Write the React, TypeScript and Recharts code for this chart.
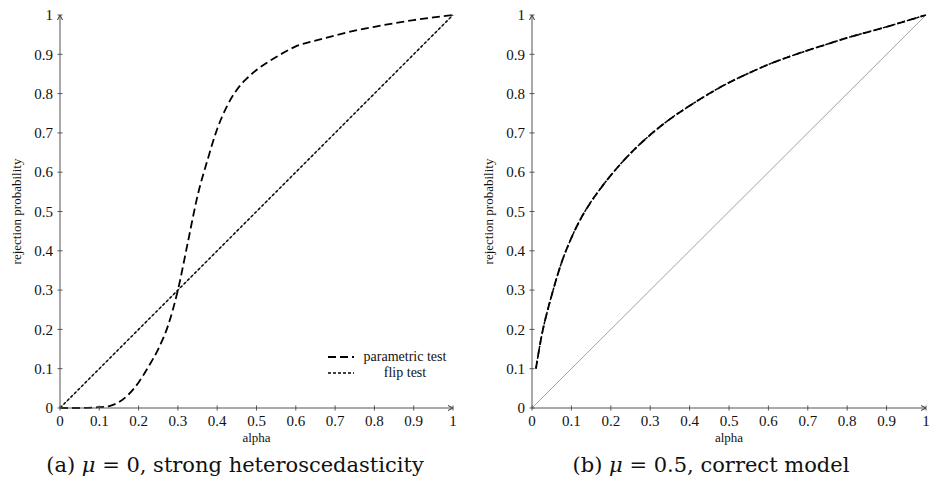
import React from 'react';
import { LineChart, Line, XAxis, YAxis, ReferenceLine, ReferenceDot } from 'recharts';

// Panel (a): mu = 0, strong heteroscedasticity
const leftAlpha = [0, 0.05, 0.1, 0.125, 0.15, 0.175, 0.2, 0.225, 0.25, 0.275, 0.3, 0.325, 0.35, 0.375, 0.4, 0.425, 0.45, 0.475, 0.5, 0.55, 0.6, 0.65, 0.7, 0.75, 0.8, 0.85, 0.9, 0.95, 1];
const leftParametric = [0, 0, 0.002, 0.005, 0.015, 0.035, 0.065, 0.105, 0.15, 0.21, 0.3, 0.42, 0.54, 0.63, 0.71, 0.768, 0.81, 0.838, 0.86, 0.893, 0.92, 0.935, 0.948, 0.96, 0.97, 0.979, 0.987, 0.994, 1];
const leftFlip = [0, 0.05, 0.1, 0.125, 0.15, 0.175, 0.2, 0.225, 0.25, 0.275, 0.3, 0.325, 0.35, 0.375, 0.4, 0.425, 0.45, 0.475, 0.5, 0.55, 0.6, 0.65, 0.7, 0.75, 0.8, 0.85, 0.9, 0.95, 1];

// Panel (b): mu = 0.5, correct model
const rightAlpha = [0.01, 0.02, 0.03, 0.04, 0.05, 0.075, 0.1, 0.125, 0.15, 0.175, 0.2, 0.25, 0.3, 0.35, 0.4, 0.45, 0.5, 0.55, 0.6, 0.65, 0.7, 0.75, 0.8, 0.85, 0.9, 0.95, 1];
const rightParametric = [0.1, 0.16, 0.21, 0.25, 0.287, 0.37, 0.433, 0.484, 0.525, 0.56, 0.592, 0.648, 0.695, 0.735, 0.769, 0.8, 0.828, 0.852, 0.874, 0.893, 0.91, 0.926, 0.942, 0.956, 0.97, 0.985, 1];
const rightFlip = [0.1, 0.16, 0.21, 0.25, 0.287, 0.37, 0.433, 0.484, 0.525, 0.56, 0.592, 0.648, 0.695, 0.735, 0.769, 0.8, 0.828, 0.852, 0.874, 0.893, 0.91, 0.926, 0.942, 0.956, 0.97, 0.985, 1];

const ticks = [0, 0.1, 0.2, 0.3, 0.4, 0.5, 0.6, 0.7, 0.8, 0.9, 1];

const FONT = '"Liberation Serif", "DejaVu Serif", serif';
const AXIS = '#555';
const TICK_MARGIN = 7;

const buildRows = (alpha: number[], param: number[], flip: number[]) =>
  alpha.map((a, i) => ({ alpha: a, parametric: param[i], flip: flip[i] }));

const fmt = (v: number) => String(v);

const XTick = (props: any) => {
  const { x, y, payload } = props;
  const ay = y - TICK_MARGIN;
  return (
    <g>
      <line x1={x} x2={x} y1={ay - 2.5} y2={ay + 2.5} stroke={AXIS} />
      <text x={x} y={y} dy="0.71em" textAnchor="middle" fontFamily={FONT} fontSize={15} fill="#111">
        {fmt(payload.value)}
      </text>
    </g>
  );
};

const YTick = (props: any) => {
  const { x, y, payload } = props;
  const ax = x + TICK_MARGIN;
  return (
    <g>
      <line x1={ax - 2.5} x2={ax + 2.5} y1={y} y2={y} stroke={AXIS} />
      <text x={x} y={y} dy="0.35em" textAnchor="end" fontFamily={FONT} fontSize={15} fill="#111">
        {fmt(payload.value)}
      </text>
    </g>
  );
};

const YLabel = (props: any) => {
  const vb = props.viewBox;
  const cx = vb.x + vb.width - 44;
  const cy = vb.y + vb.height / 2;
  return (
    <text x={cx} y={cy} transform={`rotate(-90 ${cx} ${cy})`} textAnchor="middle" dominantBaseline="central"
      fontFamily={FONT} fontSize={13} fill="#111">
      rejection probability
    </text>
  );
};

const XLabel = (props: any) => {
  const vb = props.viewBox;
  const cx = vb.x + vb.width / 2;
  return (
    <text x={cx} y={vb.y + 29} textAnchor="middle" dominantBaseline="central" fontFamily={FONT} fontSize={13} fill="#111">
      alpha
    </text>
  );
};

const ArrowRight = (p: any) => (
  <path d={`M${p.cx - 5},${p.cy - 2.5} L${p.cx},${p.cy} L${p.cx - 5},${p.cy + 2.5}`} fill="none" stroke="#333" strokeWidth={1} />
);
const ArrowUp = (p: any) => (
  <path d={`M${p.cx - 2.5},${p.cy + 5} L${p.cx},${p.cy} L${p.cx + 2.5},${p.cy + 5}`} fill="none" stroke="#333" strokeWidth={1} />
);

const Panel = ({ data, width, margin }: { data: any[]; width: number; margin: any }) => (
  <LineChart width={width} height={452} data={data} margin={margin}>
    <XAxis dataKey="alpha" type="number" domain={[0, 1]} ticks={ticks} interval={0}
      axisLine={{ stroke: AXIS }} tickLine={false} tickSize={0} tickMargin={TICK_MARGIN}
      tick={<XTick />} height={25} label={<XLabel />} />
    <YAxis type="number" domain={[0, 1]} ticks={ticks} interval={0}
      axisLine={{ stroke: AXIS }} tickLine={false} tickSize={0} tickMargin={TICK_MARGIN}
      tick={<YTick />} width={40} label={<YLabel />} />
    <ReferenceLine segment={[{ x: 0, y: 0 }, { x: 1, y: 1 }]} stroke="#999" strokeWidth={0.9} />
    <Line type="monotone" dataKey="parametric" stroke="#000" strokeWidth={1.8} strokeDasharray="8 4"
      dot={false} isAnimationActive={false} />
    <Line type="monotone" dataKey="flip" stroke="#000" strokeWidth={1.5} strokeDasharray="3 2"
      dot={false} isAnimationActive={false} />
    <ReferenceDot x={1} y={0} r={3} shape={<ArrowRight />} />
    <ReferenceDot x={0} y={1} r={3} shape={<ArrowUp />} />
  </LineChart>
);

const LegendRow = ({ dash, width, label }: { dash: string; width: number; label: string }) => (
  <div style={{ display: 'flex', alignItems: 'center', height: 16 }}>
    <svg width={26} height={8} style={{ marginRight: 4 }}>
      <line x1={0} x2={26} y1={4} y2={4} stroke="#000" strokeWidth={width} strokeDasharray={dash} />
    </svg>
    <span style={{ flex: 1, textAlign: 'center' }}>{label}</span>
  </div>
);

const captionStyle: React.CSSProperties = {
  position: 'absolute', width: 460, top: 453, textAlign: 'center',
  fontFamily: '"DejaVu Serif", serif', fontSize: 21, color: '#111', whiteSpace: 'nowrap',
};

export default function App() {
  const left = buildRows(leftAlpha, leftParametric, leftFlip);
  const right = buildRows(rightAlpha, rightParametric, rightFlip);
  return (
    <div style={{ position: 'absolute', left: 0, top: 0, width: 931, height: 495, background: '#fff', fontFamily: FONT }}>
      <div style={{ position: 'absolute', left: 0, top: 0 }}>
        <Panel data={left} width={470} margin={{ top: 15, right: 17, bottom: 19, left: 20 }} />
      </div>
      <div style={{ position: 'absolute', left: 472, top: 0 }}>
        <Panel data={right} width={459} margin={{ top: 15, right: 5, bottom: 19, left: 20 }} />
      </div>
      <div style={{ position: 'absolute', left: 328, top: 349, width: 124, fontSize: 14, color: '#111' }}>
        <LegendRow dash="8 4" width={1.8} label="parametric test" />
        <LegendRow dash="3 2" width={1.5} label="flip test" />
      </div>
      <div style={{ ...captionStyle, left: 5 }}>
        (a) <i>μ</i> = 0, strong heteroscedasticity
      </div>
      <div style={{ ...captionStyle, left: 481 }}>
        (b) <i>μ</i> = 0.5, correct model
      </div>
    </div>
  );
}
